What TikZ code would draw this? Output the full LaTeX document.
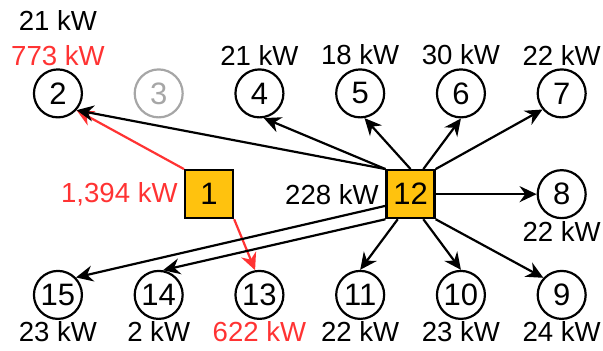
\documentclass[tikz,border=0pt]{standalone}
\usepackage{fontspec}
\setmainfont{Liberation Sans}
\usetikzlibrary{arrows.meta}
\definecolor{boxyellow}{HTML}{FFC20E}
\definecolor{flowred}{HTML}{FF3333}
\definecolor{offgray}{HTML}{A6A6A6}

\begin{document}
\begin{tikzpicture}[x=50.4pt, y=50.4pt, line width=1.1pt,
  bus/.style={circle, draw, minimum size=24pt, inner sep=0pt, font=\fontsize{15.5}{18}\selectfont},
  gen/.style={rectangle, draw, fill=boxyellow, minimum size=24pt, inner sep=0pt, font=\fontsize{15.5}{18}\selectfont},
  kw/.style={inner sep=0pt, font=\fontsize{13.8}{16}\selectfont},
  feed/.style={-{Stealth[length=8.5pt, width=8pt, inset=2.8pt]}}]
  \useasboundingbox (-0.575,-0.556) rectangle (5.41,2.927);

  % top row
  \node[bus] (n2) at (0,2) {2};
  \node[bus, draw=offgray, text=offgray] (n3) at (1,2) {3};
  \node[bus] (n4) at (2,2) {4};
  \node[bus] (n5) at (3,2) {5};
  \node[bus] (n6) at (4,2) {6};
  \node[bus] (n7) at (5,2) {7};

  % middle row
  \node[gen] (b1) at (1.5,1) {1};
  \node[gen] (b12) at (3.5,1) {12};
  \node[bus] (n8) at (5,1) {8};

  % bottom row
  \node[bus] (n15) at (0,0) {15};
  \node[bus] (n14) at (1,0) {14};
  \node[bus] (n13) at (2,0) {13};
  \node[bus] (n11) at (3,0) {11};
  \node[bus] (n10) at (4,0) {10};
  \node[bus] (n9) at (5,0) {9};

  % loads
  \node[kw] (l2a) at (0,2.728) {21 kW};
  \node[kw, text=flowred] (l2b) at (0,2.371) {773 kW};
  \node[kw] (l4) at (2,2.381) {21 kW};
  \node[kw] (l5) at (3,2.381) {18 kW};
  \node[kw] (l6) at (4,2.381) {30 kW};
  \node[kw] (l7) at (5,2.381) {22 kW};
  \node[kw, text=flowred] (l1) at (0.61,1) {1,394 kW};
  \node[kw] (l12) at (2.72,1) {228 kW};
  \node[kw] (l8) at (5,0.625) {22 kW};
  \node[kw] (l15) at (0,-0.367) {23 kW};
  \node[kw] (l14) at (1,-0.367) {2 kW};
  \node[kw, text=flowred] (l13) at (2,-0.367) {622 kW};
  \node[kw] (l11) at (3,-0.367) {22 kW};
  \node[kw] (l10) at (4,-0.367) {23 kW};
  \node[kw] (l9) at (5,-0.367) {24 kW};

  % flows out of 1
  \draw[feed, flowred] (b1.north west) -- (n2.-42);
  \draw[feed, flowred] (b1.south east) -- (n13.100);

  % flows out of 12
  \draw[feed] (b12.north west) -- (n2.-42);
  \draw[feed] (b12.north west) -- (n4.-80);
  \draw[feed] (b12.north) -- (n5.-80);
  \draw[feed] (b12.63) -- (n6.south);
  \draw[feed] (b12.north east) -- (n7.-140);
  \draw[feed] (b12.east) -- (n8.west);
  \draw[feed] (b12.south east) -- (n9.137);
  \draw[feed] (b12.-63) -- (n10.north);
  \draw[feed] (b12.-117) -- (n11.north);
  \draw[feed] (b12.south west) -- (n14.80);
  \draw[feed] (b12.205) -- (n15.44);
\end{tikzpicture}
\end{document}
